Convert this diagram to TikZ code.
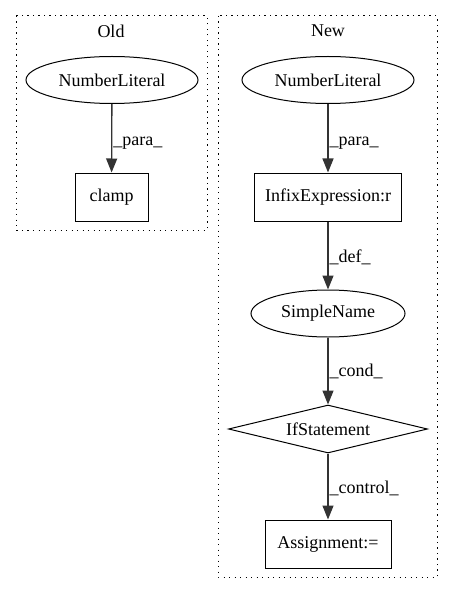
\documentclass[tikz,border=0pt]{standalone}
\usepackage{fontspec}
\setmainfont{Liberation Serif}
\usetikzlibrary{shapes.geometric,arrows.meta}
\tikzset{
  every node/.style={font=\fontsize{18}{21}\selectfont},
  cluster/.style={draw, line width=1pt, dash pattern=on 1.3pt off 4.2pt},
  ell/.style={draw, ellipse, line width=1pt, minimum width=172pt, minimum height=47pt, inner sep=0pt},
  box/.style={draw, rectangle, line width=1pt, minimum height=48pt, inner sep=0pt},
  dia/.style={draw, diamond, aspect=4.15, line width=1pt, minimum width=199pt, minimum height=48pt, inner sep=0pt},
  edge/.style={draw=black!80, line width=1.3pt, -{Triangle[length=14pt,width=11pt]}},
  elab/.style={anchor=west, inner sep=0pt},
}
\begin{document}
\begin{tikzpicture}[x=1pt,y=-1pt]
\useasboundingbox (0,0) rectangle (453,596);
% clusters
\draw[cluster] (16,16) rectangle (207,230);
\node (oldlab) at (111,31) {Old};
\draw[cluster] (218,16) rectangle (437,577);
\node (newlab) at (328,31) {New};
% old
\node[ell] (onl) at (112,80) {NumberLiteral};
\node[box, minimum width=73pt] (clamp) at (111.5,197) {clamp};
\draw[edge] (onl) -- (clamp) node[elab, pos=0.57, xshift=1pt] {\_para\_};
% new
\node[ell] (nnl) at (328,80) {NumberLiteral};
\node[box, minimum width=147pt] (infix) at (328,197) {InfixExpression:r};
\node[ell, minimum width=154pt, minimum height=47pt] (sn) at (328,313.5) {SimpleName};
\node[dia] (ifs) at (328,429) {IfStatement};
\node[box, minimum width=126pt] (asg) at (328,544) {Assignment:=};
\draw[edge] (nnl) -- (infix) node[elab, pos=0.57, xshift=1pt] {\_para\_};
\draw[edge] (infix) -- (sn) node[elab, pos=0.53, xshift=1pt] {\_def\_};
\draw[edge] (sn) -- (ifs) node[elab, pos=0.5, xshift=1pt] {\_cond\_};
\draw[edge] (ifs) -- (asg) node[elab, pos=0.53, xshift=1pt] {\_control\_};
\end{tikzpicture}
\end{document}
